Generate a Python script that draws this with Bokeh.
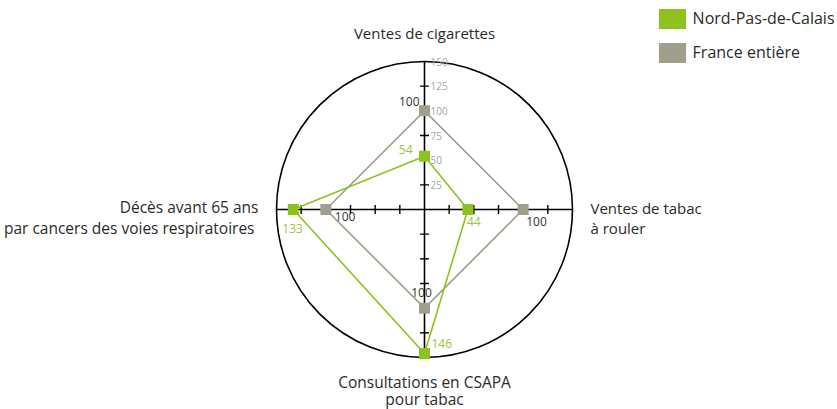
import math
from bokeh.plotting import figure
from bokeh.models import Range1d, Legend, LegendItem, ColumnDataSource
from bokeh.core.properties import value
from bokeh.embed import file_html
from bokeh.resources import INLINE

# ---- data ----
categories = ["Ventes de cigarettes", "Ventes de tabac\nà rouler",
              "Consultations en CSAPA\npour tabac",
              "Décès avant 65 ans\npar  cancers des voies respiratoires"]
angles_deg = [90, 0, -90, 180]
npdc = [54, 44, 146, 133]
france = [100, 100, 100, 100]
tick_values = [25, 50, 75, 100, 125, 150]
r_max = 150
series_names = ["Nord-Pas-de-Calais", "France entière"]

# ---- styles ----
GREEN = "#8DC21F"
GREEN_TXT = "#9BC53D"
GRAY = "#A19E8C"
FONT_NAME = "Open Sans"
FONT = value(FONT_NAME)

W, H = 837, 409
k = 148 / 150.0          # px per unit
cx, cy = 424, 209        # centre in figure pixels

p = figure(width=W, height=H, output_backend="svg", toolbar_location=None,
           x_range=Range1d(-cx / k, (W - cx) / k),
           y_range=Range1d(-(H - cy) / k, cy / k),
           min_border=0, x_axis_location=None, y_axis_location=None)
p.grid.visible = False
p.outline_line_color = None
p.background_fill_color = "white"

def polar(vals):
    xs = [v * math.cos(math.radians(a)) for v, a in zip(vals, angles_deg)]
    ys = [v * math.sin(math.radians(a)) for v, a in zip(vals, angles_deg)]
    return xs, ys

# outer circle
p.ellipse(x=0, y=0, width=2 * r_max, height=2 * r_max, fill_color=None,
          line_color="black", line_width=1.6)

# axes
p.segment(x0=[-r_max, 0], y0=[0, -r_max], x1=[r_max, 0], y1=[0, r_max],
          line_color="black", line_width=1.6)

# tick marks
tl = 4.5 / k
tx0, ty0, tx1, ty1 = [], [], [], []
for t in tick_values[:-1]:
    for s in (1, -1):
        tx0.append(-tl); tx1.append(tl); ty0.append(s * t); ty1.append(s * t)
        tx0.append(s * t); tx1.append(s * t); ty0.append(-tl); ty1.append(tl)
p.segment(x0=tx0, y0=ty0, x1=tx1, y1=ty1, line_color="black", line_width=1.4)

# tick labels on upper axis
p.text(x=[0] * len(tick_values), y=tick_values, text=[str(t) for t in tick_values],
       x_offset=6, text_baseline="middle", text_align="left",
       text_font=FONT, text_font_size="10px", text_color="#a5a5a5")

# series polygons
fx, fy = polar(france)
gx, gy = polar(npdc)
p.line(fx + fx[:1], fy + fy[:1], line_color=GRAY, line_width=1.6)
p.line(gx + gx[:1], gy + gy[:1], line_color=GREEN, line_width=1.6)
p.scatter(fx, fy, marker="square", size=11, fill_color=GRAY, line_color=None)
p.scatter(gx, gy, marker="square", size=11, fill_color=GREEN, line_color=None)

# value labels
f_off = dict(xo=[-5, 3, -3, 9], yo=[-9, 12, -16, 7], al=["right", "left", "center", "left"])
g_off = dict(xo=[-12, -1, 7, -11], yo=[-7, 12, -10, 19], al=["right", "left", "left", "left"])
for xs, ys, vals, off, col in ((fx, fy, france, f_off, "#333333"),
                               (gx, gy, npdc, g_off, GREEN_TXT)):
    for i in range(4):
        p.text(x=[xs[i]], y=[ys[i]], text=[str(vals[i])], x_offset=off["xo"][i],
               y_offset=off["yo"][i], text_align=off["al"][i],
               text_baseline="alphabetic", text_font=FONT,
               text_font_size="12px", text_color=col)

# category labels (one text per line, baseline-aligned)
lab_style = dict(xo=[0, 18, 0, -18], yo=[-29, -2, 24, -3],
                 al=["center", "left", "center", "right"],
                 size=["15px", "15px", "15.5px", "15.5px"],
                 step=[20.5, 20.5, 17, 21])
cxs, cys = polar([r_max] * 4)
for i in range(4):
    for j, line in enumerate(categories[i].split("\n")):
        p.text(x=[cxs[i]], y=[cys[i]], text=[line], x_offset=lab_style["xo"][i],
               y_offset=lab_style["yo"][i] + j * lab_style["step"][i],
               text_align=lab_style["al"][i], text_baseline="alphabetic",
               text_font=FONT, text_font_size=lab_style["size"][i],
               text_color="#2b2b2b")

# legend (off-range dummy quads only provide the legend swatches)
far = 10 * r_max
sw = ColumnDataSource(dict(left=[far], right=[far + 1], top=[far + 1], bottom=[far]))
r1 = p.quad(left="left", right="right", top="top", bottom="bottom", source=sw,
            fill_color=GREEN, line_color=None)
r2 = p.quad(left="left", right="right", top="top", bottom="bottom", source=sw,
            fill_color=GRAY, line_color=None)
legend = Legend(items=[LegendItem(label=series_names[0], renderers=[r1]),
                       LegendItem(label=series_names[1], renderers=[r2])],
                location=(654.6, H - 64.5), padding=0, margin=0, spacing=9,
                glyph_width=34, glyph_height=25, label_height=25, label_standoff=4,
                label_text_font=FONT_NAME, label_text_font_size="16px",
                label_text_color="#2b2b2b", border_line_color=None,
                background_fill_alpha=0)
p.add_layout(legend)

open("out.html", "w").write(file_html(p, INLINE))
